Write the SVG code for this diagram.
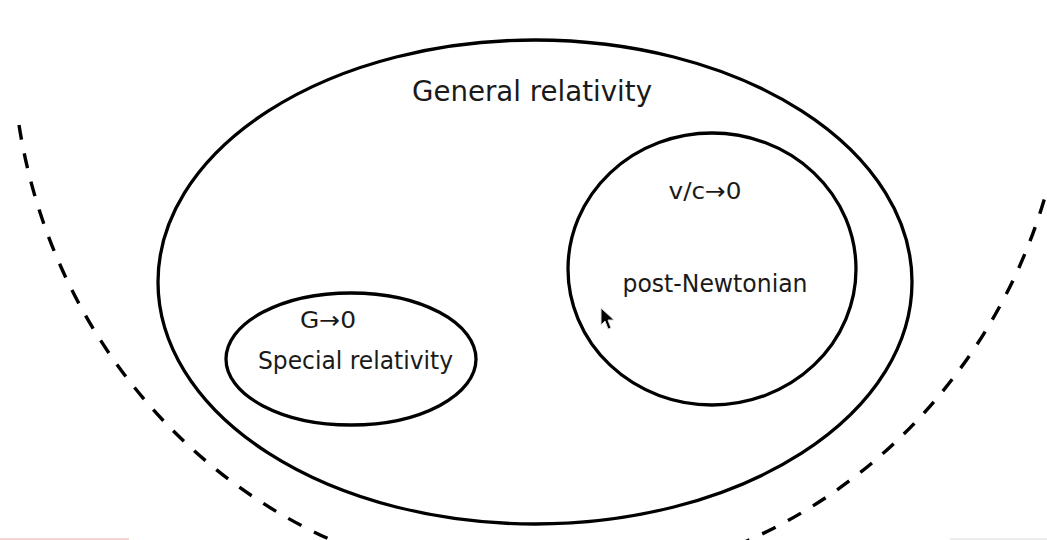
<svg xmlns="http://www.w3.org/2000/svg" width="1047" height="540" viewBox="0 0 1047 540">
<style>
.sh{fill:none;stroke:#000;stroke-width:3.3}
.dash{fill:none;stroke:#000;stroke-width:3.4;stroke-dasharray:15 14}
.t{font-family:"DejaVu Sans",sans-serif;fill:#1a1a1a;text-anchor:middle}
</style>
<rect width="1047" height="540" fill="#fff"/>
<g id="connectors">
<path class="dash" d="M 19 125 A 528 548 0 0 0 1045.6 195"/>
</g>
<g id="general-relativity">
<ellipse class="sh" cx="535" cy="282" rx="377" ry="242"/>
<text class="t" x="532" y="101" font-size="27.5" textLength="240" lengthAdjust="spacingAndGlyphs">General relativity</text>
</g>
<g id="post-newtonian">
<ellipse class="sh" cx="712" cy="269" rx="144" ry="136"/>
<text class="t" x="705" y="199" font-size="23.5" textLength="73" lengthAdjust="spacingAndGlyphs">v/c→0</text>
<text class="t" x="715" y="292" font-size="24" textLength="185" lengthAdjust="spacingAndGlyphs">post-Newtonian</text>
</g>
<g id="special-relativity">
<ellipse class="sh" cx="351" cy="359" rx="125" ry="66"/>
<text class="t" x="328" y="328" font-size="23.5" textLength="56" lengthAdjust="spacingAndGlyphs">G→0</text>
<text class="t" x="355.5" y="369" font-size="24" textLength="195" lengthAdjust="spacingAndGlyphs">Special relativity</text>
</g>
<path d="M601 308 L601 325 L605 321 L608 329 L611 328 L608 320 L614 320 Z" fill="#000" stroke="#ddd" stroke-width="1"/>
<line x1="0" y1="539" x2="129" y2="539" stroke="#f0c4c4" stroke-width="1.5"/>
<line x1="950" y1="539" x2="1047" y2="539" stroke="#e6e6e6" stroke-width="1.5"/>
</svg>
